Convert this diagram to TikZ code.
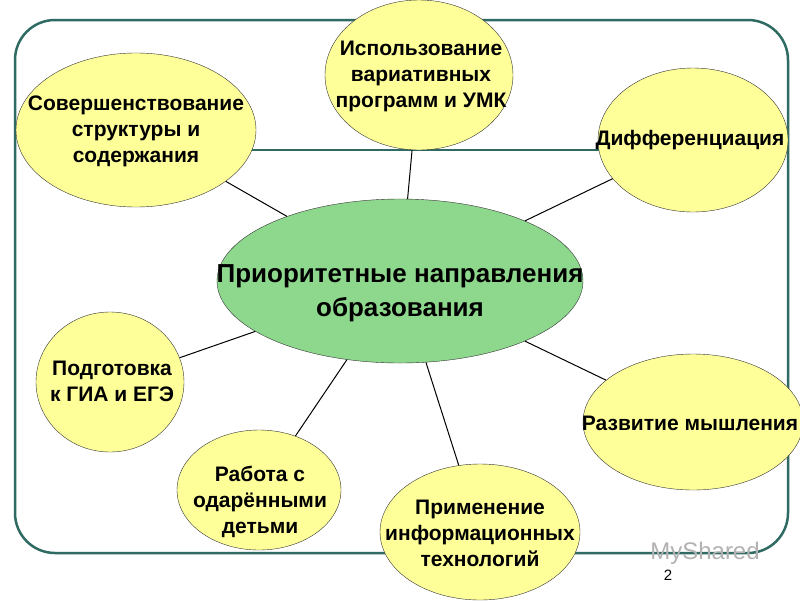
\documentclass[tikz,border=0pt]{standalone}
\usepackage{fontspec}
\setmainfont{Liberation Sans}
\usetikzlibrary{shapes.geometric}
\definecolor{frame}{HTML}{2F6B63}
\definecolor{yel}{HTML}{FFFF99}
\definecolor{grn}{HTML}{8ED88E}
\tikzset{
 bub/.style={ellipse,draw=black!80,fill=yel,inner sep=0pt},
 lbl/.style={align=center,font=\bfseries\fontsize{21}{26}\selectfont},
 link/.style={draw=black,line width=1pt}
}
\begin{document}
\begin{tikzpicture}[x=1pt,y=-1pt]
\useasboundingbox (0,0) rectangle (800,600);
\fill[white] (0,0) rectangle (800,600);
\draw[frame,line width=2.5pt,rounded corners=40pt] (15,20) rectangle (788,553);
\draw[frame,line width=2.5pt] (250,150) -- (786,150);
\node[bub,minimum width=240pt,minimum height=154pt] (s) at (136,130) {};
\node[bub,minimum width=188pt,minimum height=150pt] (i) at (419,75) {};
\node[bub,minimum width=190pt,minimum height=144pt] (d) at (693,140) {};
\node[bub,minimum width=148pt,minimum height=140pt] (p) at (110,382) {};
\node[bub,minimum width=220pt,minimum height=136pt] (r) at (693,422) {};
\node[bub,minimum width=164pt,minimum height=120pt] (w) at (259,490) {};
\node[bub,minimum width=200pt,minimum height=136pt] (a) at (480,532) {};
\node[ellipse,draw=black!80,fill=grn,minimum width=366pt,minimum height=164pt,inner sep=0pt] (c) at (400,281) {};
\node[align=center,font=\bfseries\fontsize{26}{34}\selectfont] at (400,293) {Приоритетные направления\\образования};
\node[lbl] at (136,131) {Совершенствование\\структуры и\\содержания};
\node[lbl] at (421,76) {Использование\\вариативных\\программ и УМК};
\node[lbl] at (690,140) {Дифференциация};
\node[lbl] at (112,381) {Подготовка\\к ГИА и ЕГЭ};
\node[lbl] at (690,423) {Развитие мышления};
\node[lbl] at (260,502) {Работа с\\одарёнными\\детьми};
\node[lbl] at (480,533) {Применение\\информационных\\технологий};
\draw[link] (s) -- (c);
\draw[link] (i) -- (c);
\draw[link] (d) -- (c);
\draw[link] (p) -- (c);
\draw[link] (r) -- (c);
\draw[link] (w) -- (c);
\draw[link] (a) -- (c);
\node[gray!60,font=\fontsize{24}{24}\selectfont] (ms) at (705,553) {MyShared};
\node[font=\fontsize{15}{15}\selectfont] (pg) at (668,575) {2};
\end{tikzpicture}
\end{document}
